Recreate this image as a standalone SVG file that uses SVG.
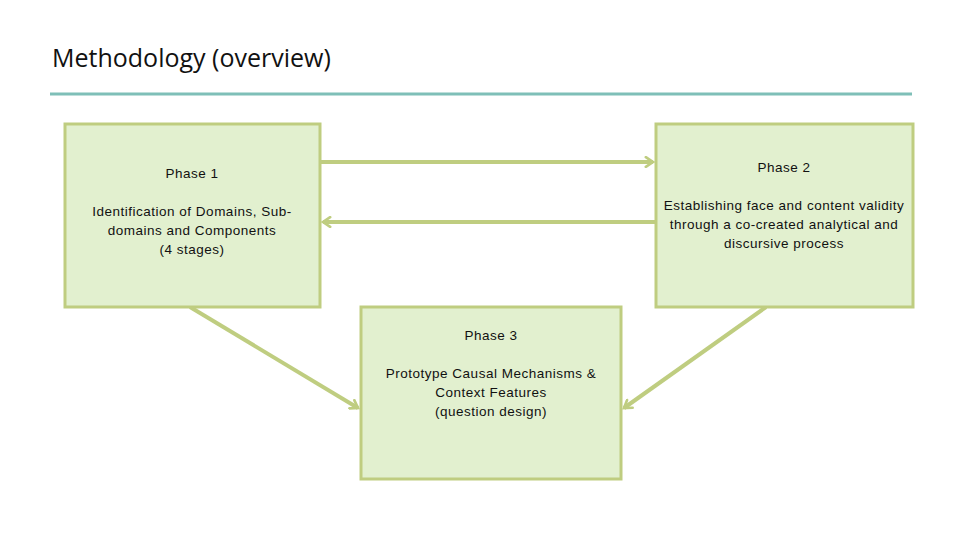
<svg xmlns="http://www.w3.org/2000/svg" width="960" height="540" viewBox="0 0 960 540">
<style>
.box{fill:#e2f0cf;stroke:#bfcd80;stroke-width:3}
.t{font-family:"Liberation Sans",Arial,sans-serif;font-size:13.5px;letter-spacing:0.5px;fill:#111;text-anchor:middle}
.c{stroke:#bfcd80;stroke-width:4;fill:none}
</style>
<defs>
<marker id="ah" viewBox="0 0 10 10" refX="8" refY="5" markerWidth="3" markerHeight="3" orient="auto" markerUnits="strokeWidth">
<path d="M2,1 L8,5 L2,9" fill="none" stroke="#bfcd80" stroke-width="2.2" stroke-linecap="round"/>
</marker>
</defs>
<rect width="960" height="540" fill="#fff"/>
<text x="52" y="67" font-family="'Open Sans','Liberation Sans',sans-serif" font-size="25" fill="#111">Methodology (overview)</text>
<line x1="50" y1="94" x2="912" y2="94" stroke="#7fbfb8" stroke-width="3"/>
<g id="connectors">
<line class="c" x1="321" y1="162" x2="653" y2="162" marker-end="url(#ah)"/>
<line class="c" x1="655" y1="222" x2="323" y2="222" marker-end="url(#ah)"/>
<line class="c" x1="190" y1="307" x2="358" y2="408" marker-end="url(#ah)"/>
<line class="c" x1="766" y1="307" x2="624" y2="408" marker-end="url(#ah)"/>
</g>
<g id="phase1">
<rect class="box" x="65" y="124" width="255" height="183"/>
<text class="t" x="192" y="178">Phase 1</text>
<text class="t" x="192" y="216">Identification of Domains, Sub-</text>
<text class="t" x="192" y="235">domains and Components</text>
<text class="t" x="192" y="254">(4 stages)</text>
</g>
<g id="phase2">
<rect class="box" x="656" y="124" width="257" height="183"/>
<text class="t" x="784" y="172">Phase 2</text>
<text class="t" x="784" y="210">Establishing face and content validity</text>
<text class="t" x="784" y="229">through a co-created analytical and</text>
<text class="t" x="784" y="248">discursive process</text>
</g>
<g id="phase3">
<rect class="box" x="361" y="307" width="260" height="172"/>
<text class="t" x="491" y="340">Phase 3</text>
<text class="t" x="491" y="378">Prototype Causal Mechanisms &amp;</text>
<text class="t" x="491" y="397">Context Features</text>
<text class="t" x="491" y="416">(question design)</text>
</g>
</svg>
